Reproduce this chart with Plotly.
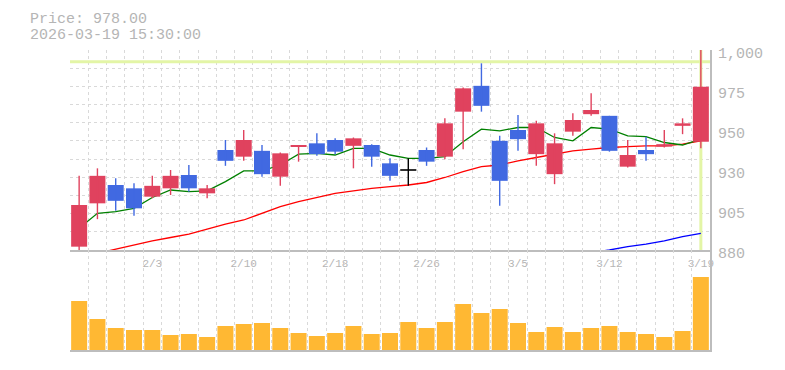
import plotly.graph_objects as go

# ---------------- data ----------------
dates = ["2026-01-28", "2026-01-29", "2026-01-30", "2026-02-02", "2026-02-03",
         "2026-02-04", "2026-02-05", "2026-02-06", "2026-02-09", "2026-02-10",
         "2026-02-12", "2026-02-13", "2026-02-16", "2026-02-17", "2026-02-18",
         "2026-02-19", "2026-02-20", "2026-02-24", "2026-02-25", "2026-02-26",
         "2026-02-27", "2026-03-02", "2026-03-03", "2026-03-04", "2026-03-05",
         "2026-03-06", "2026-03-09", "2026-03-10", "2026-03-11", "2026-03-12",
         "2026-03-13", "2026-03-16", "2026-03-17", "2026-03-18", "2026-03-19"]

open_ = [882, 908, 919, 917, 912, 917, 925, 914, 940, 936,
         939.5, 924, 942, 944, 946, 942.5, 943, 932, 928, 940,
         936, 963, 978.5, 945.5, 952, 937.5, 925.5, 951, 961.5, 960.5,
         930, 940, 942, 954.5, 945]
high = [924.5, 929, 923, 920, 924.5, 928, 931, 919, 946, 952,
        943, 938.5, 943, 950, 947, 947.5, 943.5, 935, 935, 941.5,
        959, 977.5, 992, 948.5, 961, 957.5, 950, 962, 974, 960.5,
        946, 948, 952, 959, 1003]
low = [879, 898.5, 903.5, 900.5, 911, 913, 915, 911, 930.5, 933.5,
       924, 918.5, 933, 936.5, 937.5, 929, 930, 921.5, 918.5, 930.5,
       934.5, 940.5, 963, 906.5, 939.5, 930.5, 919.5, 948.5, 960.5, 939,
       929.5, 933.5, 941.5, 949.5, 941]
close = [907, 924.5, 909.5, 905, 918.5, 924.5, 917, 917, 933.5, 946,
         925.5, 938, 943, 937.5, 939, 947, 936, 924.5, 928, 933,
         956, 977, 966.5, 921.5, 946.5, 956, 944, 958, 964, 939.5,
         937, 937.5, 943.5, 956, 978]

ma_short = [893, 902, 903, 905, 911.5, 916, 915, 915.5, 921, 927.5,
            927.5, 931, 937.5, 938, 937, 941, 941, 937, 935, 935,
            936, 945, 952.5, 951.5, 953.5, 953.5, 947.5, 945.5, 953.5, 952.5,
            948.5, 948, 944.5, 943, 946.5]
ma_mid = [None, 878, 880.5, 883, 885.5, 887.5, 889.5, 892.5, 895.5, 898,
          902, 906, 909, 911.5, 914, 915.5, 917, 918, 919, 920.5,
          923.5, 927, 930, 931, 933.5, 935.5, 937.5, 939.5, 940.5, 941.5,
          942, 942.5, 942.5, 943.5, 945.5]
ma_long = [None] * 28 + [878.5, 880, 882, 883.5, 885.5, 888, 890]

volume_k = [490, 310, 220, 200, 200, 150, 160, 130, 240, 260,
            270, 220, 170, 140, 170, 240, 160, 170, 280, 220,
            280, 460, 370, 410, 270, 180, 230, 180, 220, 240,
            180, 160, 130, 190, 730]

tick_dates = ["2026-02-03", "2026-02-10", "2026-02-18", "2026-02-26",
              "2026-03-05", "2026-03-12", "2026-03-19"]
tick_labels = ["2/3", "2/10", "2/18", "2/26", "3/5", "3/12", "3/19"]

price_min, price_max = 880, 1000
price_tickvals = [880, 904, 928, 952, 976, 1000]
price_ticktext = ["880", "905", "930", "950", "975", "1,000"]
grid_steps = 11
crosshair_price = 993
last_time = "15:30:00"

# ---------------- styles ----------------
RED = "#e0425e"
BLUE = "#4169e1"
VOL = "#ffb833"
GRID = "#d9d9d9"
AXIS = "#bdbdbd"
TXT = "#b5b5b5"
CROSS = "#e3f5a6"
FONT = "Liberation Mono"

n = len(dates)
xs = list(range(n))
boundaries = [i - 0.5 for i in range(n + 1)]
tickpos = [dates.index(d) for d in tick_dates]
grid_vals = [price_min + (price_max - price_min) * i / grid_steps for i in range(grid_steps + 1)]

fig = go.Figure()

# crosshair at the latest bar (base axis: above grid, below candles)
fig.add_trace(go.Scatter(x=[xs[-1], xs[-1]], y=[price_min, price_max], mode="lines",
                         line=dict(color=CROSS, width=3), xaxis="x", yaxis="y", hoverinfo="skip"))
fig.add_trace(go.Scatter(x=[boundaries[0], boundaries[-1]], y=[crosshair_price, crosshair_price],
                         mode="lines", line=dict(color=CROSS, width=3),
                         xaxis="x", yaxis="y", hoverinfo="skip"))

# moving averages (base price axis, behind candles)
fig.add_trace(go.Scatter(x=xs, y=ma_long, mode="lines", line=dict(color="#0000ff", width=1.3),
                         xaxis="x", yaxis="y", hoverinfo="skip"))
fig.add_trace(go.Scatter(x=xs, y=ma_mid, mode="lines", line=dict(color="#ff0000", width=1.3),
                         xaxis="x", yaxis="y", hoverinfo="skip"))
fig.add_trace(go.Scatter(x=xs, y=ma_short, mode="lines", line=dict(color="#008000", width=1.3),
                         xaxis="x", yaxis="y", hoverinfo="skip"))

# candles on overlay axis y3
body_x, body_base, body_h, body_col = [], [], [], []
wick = {"up": ([], []), "down": ([], []), "doji": ([], [])}
doji_x, doji_y = [], []
for i in xs:
    o, h, l, c = open_[i], high[i], low[i], close[i]
    if c > o:
        key = "up"
    elif c < o:
        key = "down"
    else:
        key = "doji"
    wx, wy = wick[key]
    wx += [i, i, None]
    wy += [l, h, None]
    if key == "doji":
        doji_x += [i - 0.44, i + 0.44, None]
        doji_y += [o, o, None]
    else:
        body_x.append(i)
        body_base.append(min(o, c))
        body_h.append(abs(c - o))
        body_col.append(RED if key == "up" else BLUE)

wick_col = {"up": RED, "down": BLUE, "doji": "#000000"}
fig.add_trace(go.Bar(x=body_x, y=body_h, base=body_base, width=0.875,
                     marker=dict(color=body_col, line=dict(width=0)),
                     xaxis="x", yaxis="y3", hoverinfo="skip"))
for k, (wx, wy) in wick.items():
    fig.add_trace(go.Scatter(x=wx, y=wy, mode="lines", line=dict(color=wick_col[k], width=1.4),
                             xaxis="x", yaxis="y3", hoverinfo="skip"))
fig.add_trace(go.Scatter(x=doji_x, y=doji_y, mode="lines", line=dict(color="#000000", width=1.6),
                         xaxis="x", yaxis="y3", hoverinfo="skip"))

# volume
fig.add_trace(go.Bar(x=xs, y=volume_k, width=0.875, marker=dict(color=VOL, line=dict(width=0)),
                     xaxis="x2", yaxis="y2", hoverinfo="skip"))

fig.add_annotation(text=f"Price: {close[-1]:.2f}", xref="paper", yref="paper",
                   x=-0.066, y=1.102, xanchor="left", yanchor="middle", showarrow=False,
                   font=dict(family=FONT, size=15, color=TXT))
fig.add_annotation(text=f"{dates[-1]} {last_time}", xref="paper", yref="paper",
                   x=-0.066, y=1.049, xanchor="left", yanchor="middle", showarrow=False,
                   font=dict(family=FONT, size=15, color=TXT))

price_dom = [1 / 3, 1]
vol_dom = [0, 1 / 3]
xcommon = dict(range=[-0.5, n - 0.5], showgrid=False, zeroline=False,
               showline=True, linecolor=AXIS, linewidth=1.5, ticks="",
               minor=dict(tickvals=boundaries, showgrid=True, gridcolor=GRID,
                          griddash="3px,3px", gridwidth=1, ticks=""))

# the page body adds an 8px offset, so the figure is 8px smaller on each axis
fig.update_layout(
    width=777, height=362,
    margin=dict(l=62, r=75, t=42, b=20, autoexpand=False),
    paper_bgcolor="white", plot_bgcolor="white",
    showlegend=False, barmode="overlay",
    font=dict(family=FONT, color=TXT),
    xaxis=dict(**xcommon, anchor="y", tickvals=tickpos, ticktext=tick_labels,
               tickfont=dict(family=FONT, size=11, color=TXT), ticklabelstandoff=2,
               rangeslider=dict(visible=False)),
    xaxis2=dict(**xcommon, anchor="y2", matches="x", showticklabels=False),
    yaxis=dict(domain=price_dom, range=[price_min, price_max], side="right", anchor="x",
               tickvals=grid_vals, showticklabels=False, ticks="",
               showgrid=True, gridcolor=GRID, griddash="3px,3px", gridwidth=1,
               zeroline=False, showline=True, linecolor=AXIS, linewidth=1.5),
    yaxis3=dict(overlaying="y", range=[price_min, price_max], side="right", anchor="x",
                tickvals=price_tickvals, ticktext=price_ticktext, showgrid=False,
                zeroline=False, showline=False, ticks="",
                tickfont=dict(family=FONT, size=15, color=TXT),
                ticklabelstandoff=7, ticklabelshift=3),
    yaxis2=dict(domain=vol_dom, range=[0, 1000], side="right", anchor="x2",
                showticklabels=False, showgrid=False, zeroline=False, ticks="",
                showline=True, linecolor=AXIS, linewidth=1.5),
)

fig.write_html("out.html")
